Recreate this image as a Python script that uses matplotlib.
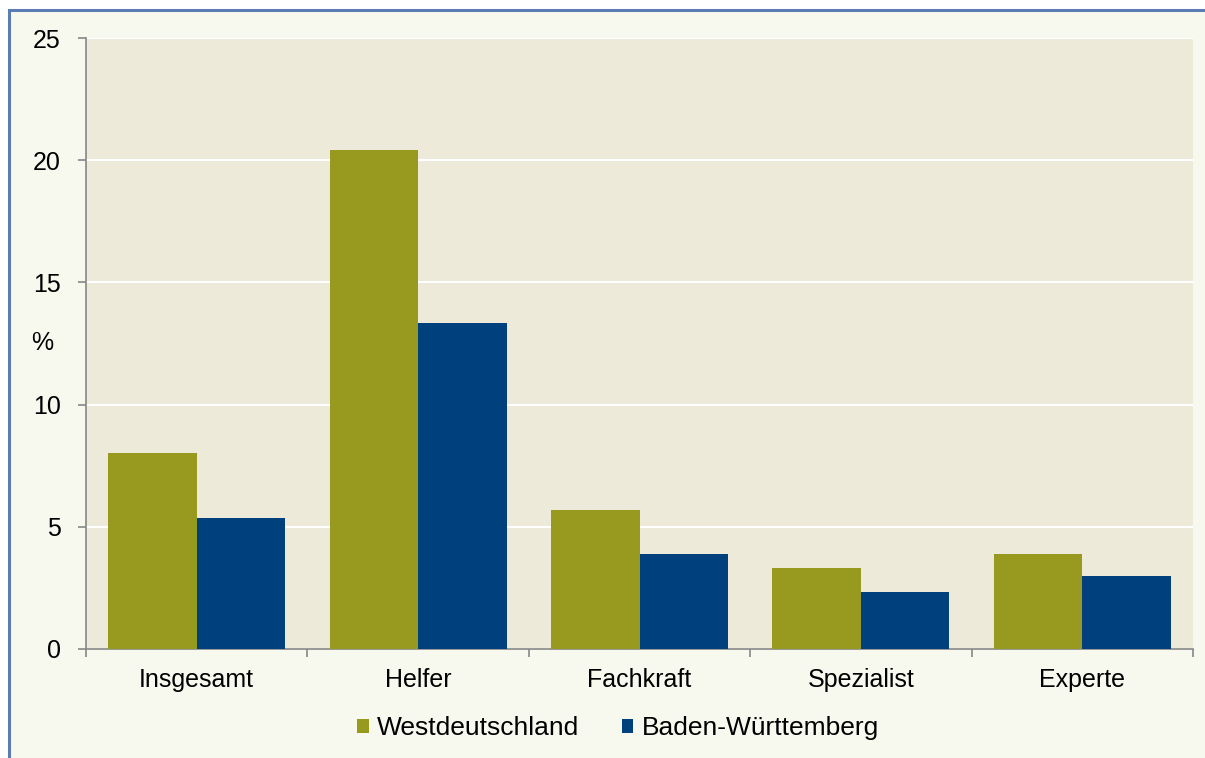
import numpy as np
import matplotlib.pyplot as plt
from matplotlib.patches import Rectangle

categories = ['Insgesamt', 'Helfer', 'Fachkraft', 'Spezialist', 'Experte']
west = [8.0, 20.4, 5.7, 3.3, 3.9]
bw = [5.35, 13.35, 3.9, 2.35, 3.0]
series_names = ['Westdeutschland', 'Baden-Württemberg']
yticks = [0, 5, 10, 15, 20, 25]

plt.rcParams['font.family'] = ['Liberation Sans', 'DejaVu Sans']

fig = plt.figure(figsize=(12.05, 7.58), dpi=100)
fig.patch.set_facecolor('white')
# outer chart frame
frame = Rectangle((9 / 1205, -0.05), 1.2, 1 - 10 / 758 + 0.05,
                  transform=fig.transFigure, facecolor='#F8F9EE',
                  edgecolor='#5B7DB4', linewidth=2.2, zorder=-5)
fig.patches.append(frame)

ax = fig.add_axes([86 / 1205, (758 - 649) / 758, (1193 - 86) / 1205, (649 - 38) / 758])
ax.set_zorder(2)
ax.set_facecolor('#EDEADA')

x = np.arange(len(categories))
w = 0.4
ax.bar(x - w / 2, west, w, color='#989A20', label=series_names[0], zorder=3)
ax.bar(x + w / 2, bw, w, color='#00407C', label=series_names[1], zorder=3)

ax.set_xlim(-0.5, len(categories) - 0.5)
ax.set_ylim(0, 25)
ax.set_yticks(yticks)
ax.yaxis.grid(True, color='white', linewidth=1.5, zorder=1)
ax.set_axisbelow(True)

fs = 18
ax.set_xticks(x)
ax.set_xticklabels(categories, fontsize=fs)
ax.tick_params(axis='x', length=0, pad=14)
ax.set_xticks(np.arange(len(categories) + 1) - 0.5, minor=True)
ax.tick_params(axis='x', which='minor', length=6, color='#868686', width=1.2)
ax.tick_params(axis='y', length=6, color='#868686', width=1.2, labelsize=fs, pad=12)

for s in ['top', 'right']:
    ax.spines[s].set_visible(False)
for s in ['left', 'bottom']:
    ax.spines[s].set_color('#868686')
    ax.spines[s].set_linewidth(1.2)

fig.text(42 / 1205, (758 - 343) / 758, '%', fontsize=fs, ha='center', va='center')

fig.legend(loc='center', bbox_to_anchor=(618 / 1205, (758 - 728) / 758),
           ncol=2, frameon=False, fontsize=19, handlelength=0.45,
           handleheight=0.45, handletextpad=0.3, columnspacing=1.6)

fig.savefig('out.png', dpi=100)
